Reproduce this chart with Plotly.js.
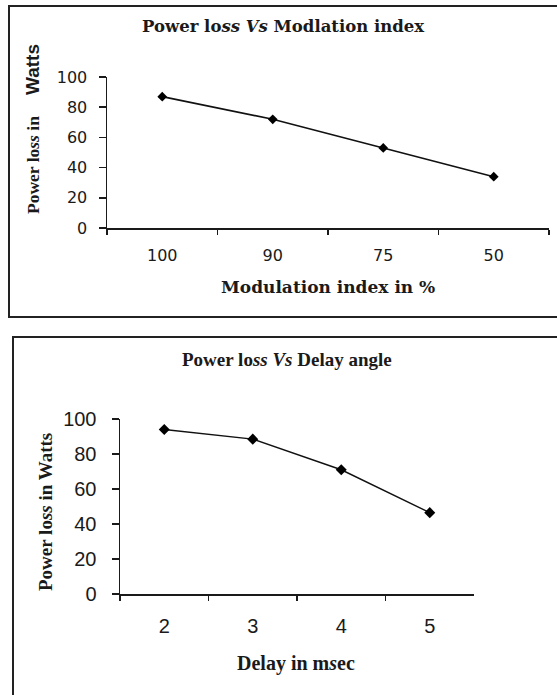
<!DOCTYPE html>
<html>
<head>
<meta charset="utf-8">
<script src="https://cdn.plot.ly/plotly-3.0.1.min.js"></script>
<style>
  html, body { margin: 0; padding: 0; background: #ffffff; }
  #chart { width: 557px; height: 695px; }
</style>
</head>
<body>
<div id="chart"></div>
<script>
// ---- Data ----
const modCategories = ['100', '90', '75', '50'];
const modPowerLoss = [87, 72, 53, 34];

const delayCategories = ['2', '3', '4', '5'];
const delayPowerLoss = [94, 88.5, 71, 46.5];

const yTickValues = [0, 20, 40, 60, 80, 100];

// ---- Helpers: pixel -> paper coordinates ----
const W = 557, H = 695;
const px = v => v / W;
const py = v => 1 - v / H;

const ink = '#1a1a1a';
const serif = 'Liberation Serif, Times New Roman, serif';
const wideSerif = 'DejaVu Serif, Liberation Serif, serif';
const wideSans = 'DejaVu Sans, Arial, sans-serif';
const boldSans = 'Liberation Sans, Arial, sans-serif';
const narrowSans = 'Liberation Sans Narrow, Arial Narrow, Liberation Sans, sans-serif';

const traces = [
  {
    x: modCategories, y: modPowerLoss,
    xaxis: 'x', yaxis: 'y',
    type: 'scatter', mode: 'lines+markers',
    line: { color: '#111', width: 1.6 },
    marker: { symbol: 'diamond', size: 7.5, color: '#000' },
    showlegend: false, hoverinfo: 'skip'
  },
  {
    x: delayCategories, y: delayPowerLoss,
    xaxis: 'x2', yaxis: 'y2',
    type: 'scatter', mode: 'lines+markers',
    line: { color: '#111', width: 1.4 },
    marker: { symbol: 'diamond', size: 8.5, color: '#000' },
    showlegend: false, hoverinfo: 'skip'
  }
];

const commonX = {
  type: 'category', range: [-0.5, 3.5], tickson: 'boundaries',
  showgrid: false, zeroline: false, showline: true,
  linecolor: ink, linewidth: 1.5, ticks: 'outside', tickcolor: ink,
  tickwidth: 1.5, ticklen: 5, fixedrange: true
};
const commonY = {
  range: [0, 100], tickvals: yTickValues, showgrid: false, zeroline: false,
  showline: true, linecolor: ink, linewidth: 1.5, ticks: 'outside',
  tickcolor: ink, tickwidth: 1.5, ticklen: 7, fixedrange: true
};

const layout = {
  width: W, height: H,
  margin: { l: 0, r: 0, t: 0, b: 0, pad: 0 },
  paper_bgcolor: '#ffffff', plot_bgcolor: 'rgba(0,0,0,0)',
  showlegend: false,
  xaxis: Object.assign({}, commonX, {
    domain: [px(107), px(549)], anchor: 'y',
    tickfont: { family: wideSans, size: 16, color: ink },
    ticklabelstandoff: 12
  }),
  yaxis: Object.assign({}, commonY, {
    domain: [py(228), py(77)], anchor: 'x',
    tickfont: { family: wideSans, size: 16, color: ink },
    ticklabelstandoff: 8
  }),
  xaxis2: Object.assign({}, commonX, {
    domain: [px(120), px(474)], anchor: 'y2',
    tickfont: { family: narrowSans, size: 20, color: ink },
    ticklabelstandoff: 13
  }),
  yaxis2: Object.assign({}, commonY, {
    domain: [py(594), py(419)], anchor: 'x2',
    tickfont: { family: narrowSans, size: 20, color: ink },
    ticklabelstandoff: 11
  }),
  shapes: [
    { type: 'rect', xref: 'paper', yref: 'paper',
      x0: px(9), x1: px(600), y0: py(317), y1: py(6),
      line: { color: '#222', width: 2 }, fillcolor: 'rgba(0,0,0,0)' },
    { type: 'rect', xref: 'paper', yref: 'paper',
      x0: px(13), x1: px(600), y0: py(740), y1: py(337),
      line: { color: '#222', width: 2 }, fillcolor: 'rgba(0,0,0,0)' }
  ],
  annotations: [
    { xref: 'paper', yref: 'paper', x: px(282.5), y: py(26),
      xanchor: 'center', yanchor: 'middle', showarrow: false,
      text: '<b>Power lo<i>ss</i> <i>Vs</i> Modlation index</b>',
      font: { family: wideSerif, size: 16.5, color: ink } },
    { xref: 'paper', yref: 'paper', x: px(328), y: py(287),
      xanchor: 'center', yanchor: 'middle', showarrow: false,
      text: '<b>Modulation index in %</b>',
      font: { family: wideSerif, size: 17, color: ink } },
    { xref: 'paper', yref: 'paper', x: px(33), y: py(165),
      xanchor: 'center', yanchor: 'middle', showarrow: false, textangle: -90,
      text: '<b>Power lo<i>ss</i> in</b>',
      font: { family: serif, size: 17.5, color: ink } },
    { xref: 'paper', yref: 'paper', x: px(32), y: py(70),
      xanchor: 'center', yanchor: 'middle', showarrow: false, textangle: -90,
      text: '<b>Watts</b>',
      font: { family: boldSans, size: 19, color: ink } },
    { xref: 'paper', yref: 'paper', x: px(287), y: py(359),
      xanchor: 'center', yanchor: 'middle', showarrow: false,
      text: '<b>Power lo<i>ss</i> <i>Vs</i> Delay angle</b>',
      font: { family: serif, size: 19, color: ink } },
    { xref: 'paper', yref: 'paper', x: px(296), y: py(663),
      xanchor: 'center', yanchor: 'middle', showarrow: false,
      text: '<b>Delay in m<i>s</i>ec</b>',
      font: { family: serif, size: 20, color: ink } },
    { xref: 'paper', yref: 'paper', x: px(45), y: py(512),
      xanchor: 'center', yanchor: 'middle', showarrow: false, textangle: -90,
      text: '<b>Power lo<i>ss</i> in Watts</b>',
      font: { family: serif, size: 19, color: ink } }
  ]
};

Plotly.newPlot('chart', traces, layout, { displayModeBar: false, staticPlot: true });
</script>
</body>
</html>
